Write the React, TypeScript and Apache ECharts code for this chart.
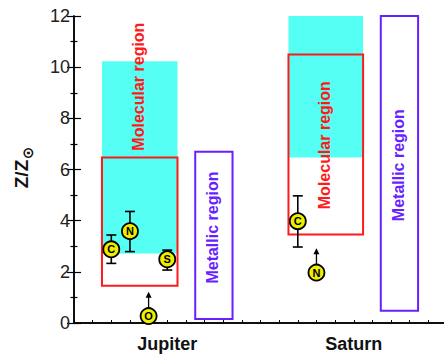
import React, { useEffect, useRef } from "react";
import * as echarts from "echarts";

// ---- data ----
const planetNames = ["Jupiter", "Saturn"];
const planetPositions = [5, 15];

// [xStart, xEnd, yLow, yHigh]
const cyanRanges = [
  [1.5, 5.55, 2.72, 10.23],
  [11.5, 15.5, 6.47, 12],
];
const molecularBoxes = [
  [1.5, 5.55, 1.46, 6.47],
  [11.5, 15.5, 3.46, 10.5],
];
const metallicBoxes = [
  [6.5, 8.5, 0.16, 6.69],
  [16.45, 18.45, 0.48, 12],
];
const molecularLabelPos = [
  [3.46, 9.24],
  [13.45, 6.95],
];
const metallicLabelPos = [
  [7.4, 3.73],
  [17.4, 6.17],
];

// measured abundances with error bars
const elementNames = ["C", "N", "S", "C"];
const elementX = [2, 3, 5, 12];
const elementY = [2.88, 3.59, 2.49, 3.98];
const errLow = [2.33, 2.79, 2.07, 2.97];
const errHigh = [3.44, 4.36, 2.85, 4.97];

// lower limits
const limitNames = ["O", "N"];
const limitX = [4, 13];
const limitY = [0.27, 1.97];
const arrowTop = [1.22, 2.92];

const yAxisTitle = "Z/Z";
const yAxisTitleSub = "⊙";

const FONT = "'Liberation Sans', Arial, Helvetica, sans-serif";
const RED = "#ff1a1a";
const BLUE = "#6a1fff";
const CYAN = "#55fff3";

function rectRenderer(fill: string, stroke: string, lw: number) {
  return (params: any, api: any) => {
    const p0 = api.coord([api.value(0), api.value(3)]);
    const p1 = api.coord([api.value(1), api.value(2)]);
    return {
      type: "rect",
      shape: { x: p0[0], y: p0[1], width: p1[0] - p0[0], height: p1[1] - p0[1] },
      style: { fill, stroke, lineWidth: lw },
    };
  };
}

function textRenderer(text: string, color: string) {
  return (params: any, api: any) => {
    const p = api.coord([api.value(0), api.value(1)]);
    return {
      type: "text",
      x: p[0],
      y: p[1],
      rotation: Math.PI / 2,
      style: {
        text,
        fill: color,
        fontSize: 16,
        fontWeight: "bold",
        fontFamily: FONT,
        align: "center",
        verticalAlign: "middle",
      },
    };
  };
}

export default function App() {
  const ref = useRef<HTMLDivElement>(null);
  useEffect(() => {
    if (!ref.current) return;
    const chart = echarts.init(ref.current, null, { renderer: "svg" });

    const errData = elementX.map((x, i) => [x, elementY[i], errLow[i], errHigh[i]]);
    const pointData = elementX.map((x, i) => ({ name: elementNames[i], value: [x, elementY[i]] }));
    const limitData = limitX.map((x, i) => ({ name: limitNames[i], value: [x, limitY[i]] }));
    const arrowData = limitX.map((x, i) => [x, limitY[i], arrowTop[i]]);

    const axisLineStyle = { color: "#000", width: 1.5 };
    const markerStyle = { color: "#eeee00", borderColor: "#000", borderWidth: 1.8, opacity: 1 };
    const markerLabel = {
      show: true,
      position: "inside",
      formatter: (p: any) => p.name,
      fontSize: 11,
      fontWeight: "bold",
      color: "#000",
    };

    chart.setOption({
      animation: false,
      textStyle: { fontFamily: FONT },
      grid: { left: 74, top: 16, right: 5, bottom: 31 },
      graphic: [
        {
          type: "text",
          x: 21,
          y: 174,
          rotation: Math.PI / 2,
          style: {
            text: yAxisTitle,
            fill: "#111",
            fontSize: 19,
            fontWeight: "bold",
            fontFamily: FONT,
            align: "center",
            verticalAlign: "middle",
          },
        },
        {
          type: "text",
          x: 27.5,
          y: 153,
          rotation: Math.PI / 2,
          style: {
            text: yAxisTitleSub,
            fill: "#111",
            fontSize: 15,
            fontWeight: "bold",
            fontFamily: "'DejaVu Sans', sans-serif",
            align: "center",
            verticalAlign: "middle",
          },
        },
      ],
      xAxis: [
        {
          type: "value",
          min: 0,
          max: 20,
          interval: 1,
          position: "bottom",
          axisLine: { lineStyle: axisLineStyle },
          axisTick: { inside: true, length: 3, lineStyle: { color: "#000", width: 1 } },
          axisLabel: {
            formatter: (v: number) => {
              const idx = planetPositions.indexOf(v);
              return idx >= 0 ? planetNames[idx] : "";
            },
            fontSize: 18,
            fontWeight: "bold",
            color: "#111",
            margin: 12,
          },
          splitLine: { show: false },
        },
        {
          type: "value",
          min: 0,
          max: 20,
          position: "top",
          axisLine: { show: true, lineStyle: axisLineStyle },
          axisTick: { show: false },
          axisLabel: { show: false },
          splitLine: { show: false },
        },
      ],
      yAxis: [
        {
          type: "value",
          min: 0,
          max: 12,
          interval: 2,
          position: "left",
          axisLine: { show: true, lineStyle: axisLineStyle },
          axisTick: { inside: true, length: 7, lineStyle: { color: "#000", width: 1.2 } },
          minorTick: { show: true, splitNumber: 2, length: 3.5, lineStyle: { color: "#000", width: 1.2 } },
          axisLabel: { fontSize: 18, color: "#222", margin: 4 },
          splitLine: { show: false },
        },
        {
          type: "value",
          min: 0,
          max: 12,
          interval: 2,
          position: "right",
          axisLine: { show: true, lineStyle: axisLineStyle },
          axisTick: { inside: true, length: 7, lineStyle: { color: "#000", width: 1.2 } },
          minorTick: { show: true, splitNumber: 2, length: 3.5, lineStyle: { color: "#000", width: 1.2 } },
          axisLabel: { show: false },
          splitLine: { show: false },
        },
      ],
      series: [
        {
          type: "custom",
          z: 1,
          renderItem: rectRenderer(CYAN, "none", 0),
          encode: { x: [0, 1], y: [2, 3] },
          data: cyanRanges,
          silent: true,
        },
        {
          type: "custom",
          z: 2,
          renderItem: rectRenderer("none", RED, 2),
          encode: { x: [0, 1], y: [2, 3] },
          data: molecularBoxes,
          silent: true,
        },
        {
          type: "custom",
          z: 2,
          renderItem: rectRenderer("none", BLUE, 2),
          encode: { x: [0, 1], y: [2, 3] },
          data: metallicBoxes,
          silent: true,
        },
        {
          type: "custom",
          z: 3,
          renderItem: textRenderer("Molecular region", RED),
          encode: { x: 0, y: 1 },
          data: molecularLabelPos,
          silent: true,
        },
        {
          type: "custom",
          z: 3,
          renderItem: textRenderer("Metallic region", BLUE),
          encode: { x: 0, y: 1 },
          data: metallicLabelPos,
          silent: true,
        },
        {
          type: "custom",
          z: 4,
          encode: { x: 0, y: [1, 2, 3] },
          data: errData,
          silent: true,
          renderItem: (params: any, api: any) => {
            const x = api.value(0);
            const lo = api.coord([x, api.value(2)]);
            const hi = api.coord([x, api.value(3)]);
            const hw = 5;
            const s = { stroke: "#000", lineWidth: 1.6 };
            return {
              type: "group",
              children: [
                { type: "line", shape: { x1: lo[0], y1: lo[1], x2: hi[0], y2: hi[1] }, style: s },
                { type: "line", shape: { x1: lo[0] - hw, y1: lo[1], x2: lo[0] + hw, y2: lo[1] }, style: s },
                { type: "line", shape: { x1: hi[0] - hw, y1: hi[1], x2: hi[0] + hw, y2: hi[1] }, style: s },
              ],
            };
          },
        },
        {
          type: "custom",
          z: 4,
          encode: { x: 0, y: [1, 2] },
          data: arrowData,
          silent: true,
          renderItem: (params: any, api: any) => {
            const x = api.value(0);
            const base = api.coord([x, api.value(1)]);
            const tip = api.coord([x, api.value(2)]);
            const startY = base[1] - 8;
            return {
              type: "group",
              children: [
                { type: "line", shape: { x1: tip[0], y1: startY, x2: tip[0], y2: tip[1] + 4 }, style: { stroke: "#000", lineWidth: 1.3 } },
                {
                  type: "polygon",
                  shape: { points: [[tip[0], tip[1]], [tip[0] - 3, tip[1] + 6], [tip[0] + 3, tip[1] + 6]] },
                  style: { fill: "#000" },
                },
              ],
            };
          },
        },
        {
          type: "scatter",
          z: 5,
          symbol: "circle",
          symbolSize: 16,
          itemStyle: markerStyle,
          label: markerLabel,
          data: pointData,
          silent: true,
        },
        {
          type: "scatter",
          z: 5,
          symbol: "circle",
          symbolSize: 16,
          itemStyle: markerStyle,
          label: markerLabel,
          data: limitData,
          silent: true,
        },
      ],
    });
    return () => chart.dispose();
  }, []);

  return (
    <div style={{ position: "fixed", left: 0, top: 0, width: 444, height: 354, overflow: "hidden", background: "#fff" }}>
      <div ref={ref} style={{ width: 452, height: 354 }} />
    </div>
  );
}
